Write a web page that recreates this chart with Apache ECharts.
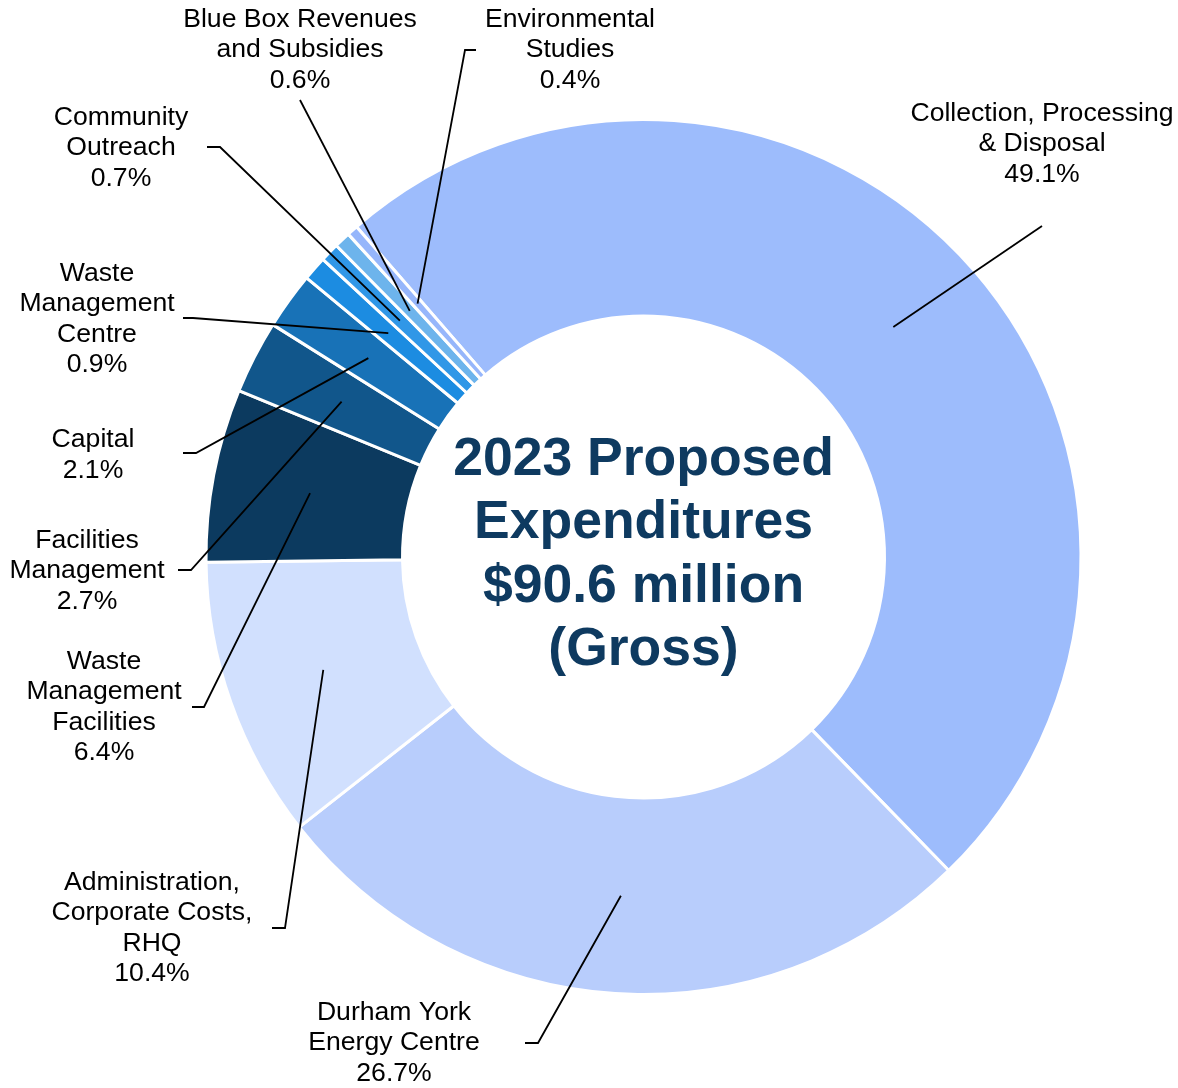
<!DOCTYPE html>
<html>
<head>
<meta charset="utf-8">
<script src="https://cdn.jsdelivr.net/npm/echarts@6/dist/echarts.min.js"></script>
<style>
html,body{margin:0;padding:0;background:#fff;}
#chart{width:1178px;height:1088px;}
</style>
</head>
<body>
<div id="chart"></div>
<script>
// ---- data ----
const categories = [
  'Collection, Processing\n& Disposal',
  'Durham York\nEnergy Centre',
  'Administration,\nCorporate Costs,\nRHQ',
  'Waste\nManagement\nFacilities',
  'Facilities\nManagement',
  'Capital',
  'Waste\nManagement\nCentre',
  'Community\nOutreach',
  'Blue Box Revenues\nand Subsidies',
  'Environmental\nStudies'
];
const values = [49.1, 26.7, 10.4, 6.4, 2.7, 2.1, 0.9, 0.7, 0.6, 0.4];
const centerLines = ['2023 Proposed', 'Expenditures', '$90.6 million', '(Gross)'];

// ---- styles / layout ----
const colors = ['#9dbcfc', '#b8cdfc', '#d1e0fe', '#0c3a5f', '#11568b',
                '#1872b7', '#1c8ce1', '#3097e7', '#6db4ec', '#96b6fb'];
const CX = 643.5, CY = 557, R_IN = 241, R_OUT = 437.5, R_MID = 339.5;
const START_ANGLE = 131;
// label centre and leader-line elbow points (label side)
const labelLayoutPos = [
  {x: 1042, y: 144, line: [[1042, 226], [1042, 226]]},
  {x: 394,  y: 1043, line: [[538, 1043], [525, 1043]]},
  {x: 152,  y: 928, line: [[285, 928], [272, 928]]},
  {x: 104,  y: 707, line: [[204, 707], [192, 707]]},
  {x: 87,   y: 571, line: [[191, 570], [178, 570]]},
  {x: 93,   y: 455, line: [[196, 453], [183, 453]]},
  {x: 97,   y: 319, line: [[193, 318], [183, 318]]},
  {x: 121,  y: 148, line: [[220, 147], [207, 147]]},
  {x: 300,  y: 50,  line: [[300, 100], [300, 100]]},
  {x: 570,  y: 50,  line: [[465, 50], [476, 50]]}
];

const total = values.reduce((a, b) => a + b, 0);
function midAngle(i) {
  let cum = 0;
  for (let k = 0; k < i; k++) cum += values[k];
  return (START_ANGLE - 360 * (cum + values[i] / 2) / total) * Math.PI / 180;
}

const FONT = "'Liberation Sans', Arial, Helvetica, sans-serif";

const pieBase = {
  type: 'pie',
  center: [CX, CY],
  radius: [R_IN, R_OUT],
  startAngle: START_ANGLE,
  clockwise: true,
  avoidLabelOverlap: false,
  minShowLabelAngle: 0,
  silent: true,
  emphasis: {disabled: true}
};

const chart = echarts.init(document.getElementById('chart'), null, {renderer: 'canvas'});
chart.setOption({
  backgroundColor: '#ffffff',
  animation: false,
  graphic: [{
    type: 'text',
    x: CX,
    y: 555,
    z: 10,
    style: {
      text: centerLines.join('\n'),
      align: 'center',
      verticalAlign: 'middle',
      fontFamily: FONT,
      fontWeight: 'bold',
      fontSize: 53.5,
      lineHeight: 63.5,
      fill: '#0e3a60'
    }
  }],
  series: [
    Object.assign({}, pieBase, {
      z: 2,
      itemStyle: {borderColor: '#ffffff', borderWidth: 3},
      label: {show: false},
      labelLine: {show: false},
      data: values.map((v, i) => ({
        name: categories[i],
        value: v,
        itemStyle: {color: colors[i]}
      }))
    }),
    Object.assign({}, pieBase, {
      z: 5,
      itemStyle: {color: 'rgba(0,0,0,0)', borderWidth: 0},
      label: {
        show: true,
        position: 'outside',
        formatter: function (p) { return categories[p.dataIndex] + '\n' + values[p.dataIndex].toFixed(1) + '%'; },
        fontFamily: FONT,
        fontSize: 26.6,
        lineHeight: 30.5,
        color: '#000000',
        align: 'center'
      },
      labelLine: {
        show: true,
        showAbove: true,
        length: 10,
        length2: 10,
        smooth: false,
        lineStyle: {color: '#000000', width: 1.8, opacity: 1}
      },
      labelLayout: function (params) {
        const i = params.dataIndex;
        const L = labelLayoutPos[i];
        let start;
        const pts = params.labelLinePoints;
        if (pts && pts.length) {
          const dx = pts[0][0] - CX, dy = pts[0][1] - CY;
          const d = Math.hypot(dx, dy) || 1;
          start = [CX + dx / d * R_MID, CY + dy / d * R_MID];
        } else {
          const a = midAngle(i);
          start = [CX + R_MID * Math.cos(a), CY - R_MID * Math.sin(a)];
        }
        return {
          x: L.x,
          y: L.y,
          align: 'center',
          verticalAlign: 'middle',
          labelLinePoints: [start, L.line[0], L.line[1]]
        };
      },
      data: values.map((v, i) => ({
        name: categories[i],
        value: v
      }))
    })
  ]
});
</script>
</body>
</html>
